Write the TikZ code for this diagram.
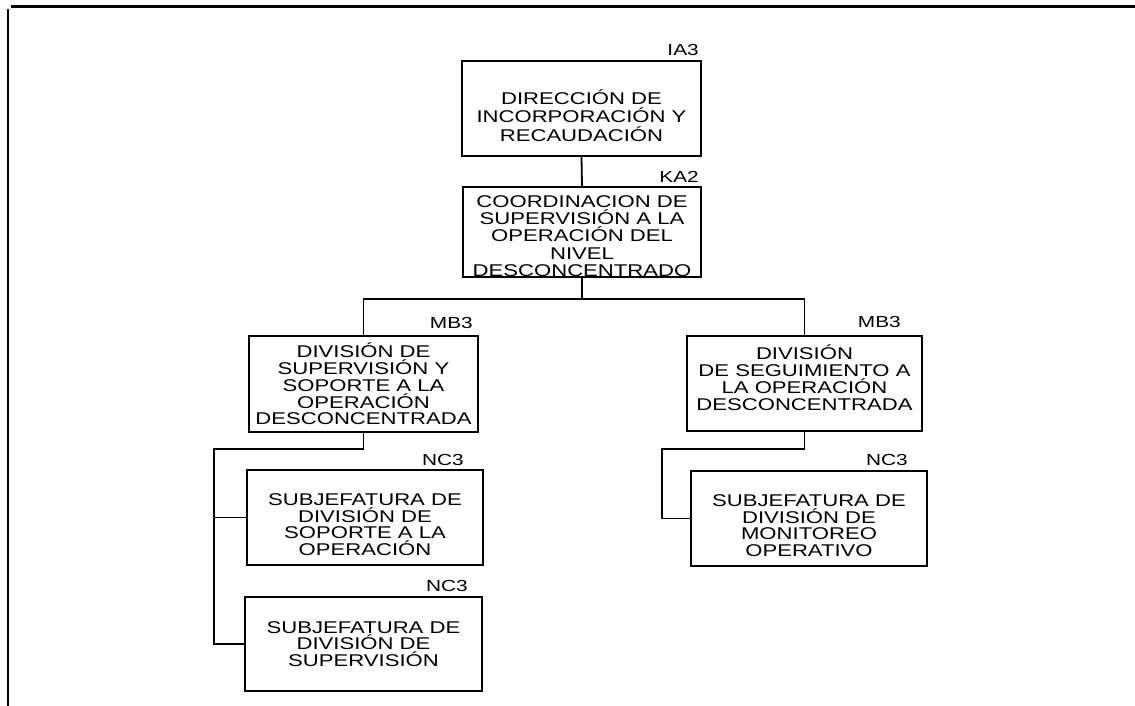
\documentclass[tikz,border=0pt]{standalone}
\usepackage{fontspec}
\setmainfont{Liberation Sans}[FakeStretch=1.3]
\usepackage{tikz}
\usetikzlibrary{positioning}

% strut to push the lines of a box down (or up, with a depth)
\newcommand\bajar[1]{\rule{0pt}{#1}}
\newcommand\subir[1]{\rule[-#1]{0pt}{#1}}

\tikzset{
  unidad/.style={draw,line width=1.8pt,inner sep=0pt,align=center,
    minimum width=236pt,minimum height=95pt,
    font=\fontsize{17}{16.8}\selectfont},
  clave/.style={inner sep=0pt,font=\fontsize{16}{16}\selectfont},
  linea/.style={line width=1.8pt}
}

\begin{document}
\begin{tikzpicture}[x=1pt,y=-1pt]
          \useasboundingbox (0,0) rectangle (1135,706);
          %\draw[very thin,lightgray] (0,0) grid[step=50] (1135,706);
          \draw[line width=3pt] (11,7)--(1135,7);
          \draw[line width=2pt] (8,9)--(8,706);
          % direccion y coordinacion
          \node[unidad,minimum width=239pt,font=\fontsize{17}{18.3}\selectfont] (dir) at (581.5,108.5)
            {\bajar{29pt}DIRECCIÓN DE\\INCORPORACIÓN Y\\RECAUDACIÓN};
          \node[clave,above left=4pt and 3pt of dir.north east] (dirc) {IA3};
          \node[unidad,minimum width=238pt,minimum height=90pt,font=\fontsize{17}{17.3}\selectfont] (coord) at (582,232)
            {\bajar{20pt}COORDINACION DE\\SUPERVISIÓN A LA\\OPERACIÓN DEL\\NIVEL\\DESCONCENTRADO};
          \node[clave,above left=3pt and 3pt of coord.north east] (coordc) {KA2};
          % divisiones
          \node[unidad,minimum width=229pt,minimum height=96pt] (divsop) at (363.5,384)
            {DIVISIÓN DE\\SUPERVISIÓN Y\\SOPORTE A LA\\OPERACIÓN\\DESCONCENTRADA};
          \node[clave,above left=6pt and 6pt of divsop.north east] (divsopc) {MB3};
          \node[unidad,minimum width=235pt] (divseg) at (804.5,383.5)
            {DIVISIÓN\\DE SEGUIMIENTO A\\LA OPERACIÓN\\DESCONCENTRADA\subir{12pt}};
          \node[clave,above left=7pt and 22pt of divseg.north east] (divsegc) {MB3};
          % subjefaturas
          \node[unidad] (subsop) at (365,517.5)
            {\bajar{26pt}SUBJEFATURA DE\\DIVISIÓN DE\\SOPORTE A LA\\OPERACIÓN};
          \node[clave,above left=3pt and 20pt of subsop.north east] (subsopc) {NC3};
          \node[unidad,minimum width=237pt,minimum height=94pt] (subsup) at (363.5,644)
            {SUBJEFATURA DE\\DIVISIÓN DE\\SUPERVISIÓN};
          \node[clave,above left=4pt and 15pt of subsup.north east] (subsupc) {NC3};
          \node[unidad] (submon) at (809,518.5)
            {\bajar{26pt}SUBJEFATURA DE\\DIVISIÓN DE\\MONITOREO\\OPERATIVO};
          \node[clave,above left=4pt and 20pt of submon.north east] (submonc) {NC3};
          % lineas
          \draw[linea] (dir.south)--(coord.north);
          \draw[linea] (coord.south)--++(0,21) coordinate (bus);
          \draw[linea] (bus)-|(divsop.north);
          \draw[linea] (bus)-|(divseg.north);
          \coordinate (ramaA) at (214,449);
          \coordinate (ramaB) at (662,449);
          \draw[linea] (divsop.south)|-(ramaA)|-(subsup.west);
          \draw[linea] (ramaA|-subsop.west)--(subsop.west);
          \draw[linea] (divseg.south)|-(ramaB)|-(submon.west);
        \end{tikzpicture}
\end{document}
